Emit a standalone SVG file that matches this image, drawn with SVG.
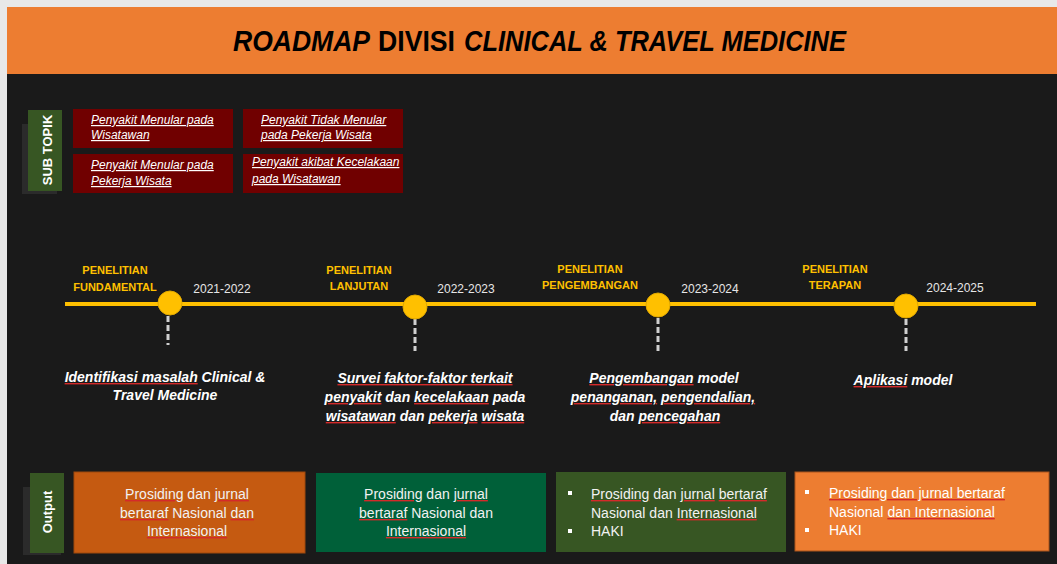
<svg xmlns="http://www.w3.org/2000/svg" width="1057" height="564" viewBox="0 0 1057 564">
<style>
.t{font-family:"Liberation Sans",Arial,sans-serif}
.title{font-size:29px;font-weight:bold;fill:#000}
.st{fill:#700000}
.stt{font-size:12px;font-style:italic;fill:#fff;text-decoration:underline}
.lab{fill:#375623}
.shadow{fill:#2b2b2b}
.labt{font-size:13px;font-weight:bold;fill:#fff;text-anchor:middle}
.ph{font-size:11px;font-weight:bold;fill:#ffc000;text-anchor:middle}
.yr{font-size:12px;fill:#e6e6e6;text-anchor:middle}
.desc{font-size:14px;font-weight:bold;font-style:italic;fill:#fff;text-anchor:middle}
.out{font-size:14px;fill:#f2f2f2}
.mid{text-anchor:middle}
.sp{fill:#d42a2a;text-decoration:underline}
.w{fill:#fff}
.g{fill:#f2f2f2}
.dot{fill:#ffc000;stroke:#e0a800;stroke-width:1}
.dash{stroke:#d0d0d0;stroke-width:3;stroke-dasharray:6 3;fill:none}
.bul{fill:#fff}
</style>
<rect x="0" y="0" width="1057" height="564" fill="#e8e8e8"/>
<rect x="7" y="7" width="1050" height="557" fill="#1a1a1a"/>
<g id="header">
<rect x="7" y="7" width="1050" height="67" fill="#ed7d31"/>
<text class="t title" x="233" y="51" font-style="italic" textLength="137" lengthAdjust="spacingAndGlyphs">ROADMAP</text>
<text class="t title" x="378" y="51" textLength="77" lengthAdjust="spacingAndGlyphs">DIVISI</text>
<text class="t title" x="464" y="51" font-style="italic" textLength="382" lengthAdjust="spacingAndGlyphs">CLINICAL &amp; TRAVEL MEDICINE</text>
</g>
<g id="subtopik-label">
<rect class="shadow" x="22" y="124" width="35" height="70"/>
<rect class="lab" x="28" y="110" width="34" height="81"/>
<text class="t labt" transform="translate(52,150) rotate(-90)">SUB TOPIK</text>
</g>
<g id="sub1">
<rect class="st" x="73" y="109" width="160" height="39"/>
<text class="t stt" x="91" y="124">Penyakit Menular pada</text>
<text class="t stt" x="91" y="139">Wisatawan</text>
</g>
<g id="sub2">
<rect class="st" x="243" y="109" width="160" height="39"/>
<text class="t stt" x="261" y="124">Penyakit Tidak Menular</text>
<text class="t stt" x="261" y="139">pada Pekerja Wisata</text>
</g>
<g id="sub3">
<rect class="st" x="73" y="154" width="160" height="39"/>
<text class="t stt" x="91" y="169">Penyakit Menular pada</text>
<text class="t stt" x="91" y="185">Pekerja Wisata</text>
</g>
<g id="sub4">
<rect class="st" x="243" y="154" width="160" height="39"/>
<text class="t stt" x="252" y="166">Penyakit akibat Kecelakaan</text>
<text class="t stt" x="252" y="183">pada Wisatawan</text>
</g>
<g id="connectors">
<line x1="65" y1="304" x2="1036" y2="304" stroke="#ffc000" stroke-width="4"/>
<line class="dash" x1="168" y1="316" x2="168" y2="345"/>
<line class="dash" x1="415" y1="319" x2="415" y2="351"/>
<line class="dash" x1="658" y1="318" x2="658" y2="351"/>
<line class="dash" x1="906" y1="319" x2="906" y2="351"/>
</g>
<g id="phase1">
<text class="t ph" x="115" y="274">PENELITIAN</text>
<text class="t ph" x="115" y="291">FUNDAMENTAL</text>
<text class="t yr" x="222" y="293">2021-2022</text>
<circle class="dot" cx="170" cy="303" r="12"/>
<text class="t desc" x="165" y="382"><tspan class="sp"><tspan class="w">Identifikasi masalah</tspan></tspan> Clinical &amp;</text>
<text class="t desc" x="165" y="400">Travel Medicine</text>
</g>
<g id="phase2">
<text class="t ph" x="359" y="274">PENELITIAN</text>
<text class="t ph" x="359" y="290">LANJUTAN</text>
<text class="t yr" x="466" y="293">2022-2023</text>
<circle class="dot" cx="415" cy="307" r="12"/>
<text class="t desc" x="425" y="383"><tspan class="sp"><tspan class="w">Survei faktor-faktor terkait</tspan></tspan></text>
<text class="t desc" x="425" y="402"><tspan class="sp"><tspan class="w">penyakit</tspan></tspan> dan <tspan class="sp"><tspan class="w">kecelakaan</tspan></tspan> pada</text>
<text class="t desc" x="425" y="421"><tspan class="sp"><tspan class="w">wisatawan</tspan></tspan> dan <tspan class="sp"><tspan class="w">pekerja</tspan></tspan> <tspan class="sp"><tspan class="w">wisata</tspan></tspan></text>
</g>
<g id="phase3">
<text class="t ph" x="590" y="273">PENELITIAN</text>
<text class="t ph" x="590" y="289">PENGEMBANGAN</text>
<text class="t yr" x="710" y="293">2023-2024</text>
<circle class="dot" cx="658" cy="305" r="12"/>
<text class="t desc" x="664" y="383"><tspan class="sp"><tspan class="w">Pengembangan</tspan></tspan> model</text>
<text class="t desc" x="663" y="402"><tspan class="sp"><tspan class="w">penanganan,</tspan></tspan> <tspan class="sp"><tspan class="w">pengendalian,</tspan></tspan></text>
<text class="t desc" x="665" y="421">dan <tspan class="sp"><tspan class="w">pencegahan</tspan></tspan></text>
</g>
<g id="phase4">
<text class="t ph" x="835" y="273">PENELITIAN</text>
<text class="t ph" x="835" y="289">TERAPAN</text>
<text class="t yr" x="955" y="292">2024-2025</text>
<circle class="dot" cx="906" cy="306" r="12"/>
<text class="t desc" x="903" y="385"><tspan class="sp"><tspan class="w">Aplikasi</tspan></tspan> model</text>
</g>
<g id="output-label">
<rect class="shadow" x="23" y="487" width="38" height="68"/>
<rect class="lab" x="30" y="473" width="34" height="80"/>
<text class="t labt" transform="translate(51.5,512) rotate(-90)">Output</text>
</g>
<g id="out1">
<rect x="74" y="472" width="231" height="81" fill="#c55a11" stroke="#9e480d" stroke-width="1"/>
<text class="t out mid" x="187" y="499"><tspan class="sp"><tspan class="g">Prosiding</tspan></tspan> dan <tspan class="sp"><tspan class="g">jurnal</tspan></tspan></text>
<text class="t out mid" x="187" y="518"><tspan class="sp"><tspan class="g">bertaraf</tspan></tspan> Nasional <tspan class="sp"><tspan class="g">dan</tspan></tspan></text>
<text class="t out mid" x="187" y="536"><tspan class="sp"><tspan class="g">Internasional</tspan></tspan></text>
</g>
<g id="out2">
<rect x="316" y="473" width="230" height="79" fill="#006039"/>
<text class="t out mid" x="426" y="499"><tspan class="sp"><tspan class="g">Prosiding</tspan></tspan> dan <tspan class="sp"><tspan class="g">jurnal</tspan></tspan></text>
<text class="t out mid" x="426" y="518"><tspan class="sp"><tspan class="g">bertaraf</tspan></tspan> Nasional dan</text>
<text class="t out mid" x="426" y="536"><tspan class="sp"><tspan class="g">Internasional</tspan></tspan></text>
</g>
<g id="out3">
<rect x="556" y="472" width="230" height="80" fill="#375623"/>
<rect class="bul" x="568" y="491" width="4" height="4"/>
<rect class="bul" x="568" y="529" width="4" height="4"/>
<text class="t out" x="591" y="499"><tspan class="sp"><tspan class="g">Prosiding</tspan></tspan> dan <tspan class="sp"><tspan class="g">jurnal</tspan></tspan> <tspan class="sp"><tspan class="g">bertaraf</tspan></tspan></text>
<text class="t out" x="591" y="518">Nasional dan <tspan class="sp"><tspan class="g">Internasional</tspan></tspan></text>
<text class="t out" x="591" y="536">HAKI</text>
</g>
<g id="out4">
<rect x="795" y="472" width="254" height="79" fill="#ed7d31" stroke="#a9541c" stroke-width="1"/>
<rect class="bul" x="805" y="490" width="4" height="4"/>
<rect class="bul" x="805" y="528" width="4" height="4"/>
<text class="t out" x="829" y="498"><tspan class="sp"><tspan class="w">Prosiding dan jurnal bertaraf</tspan></tspan></text>
<text class="t out" x="829" y="517"><tspan class="w">Nasional </tspan><tspan class="sp"><tspan class="w">dan Internasional</tspan></tspan></text>
<text class="t out" x="829" y="535"><tspan class="w">HAKI</tspan></text>
</g>
</svg>
